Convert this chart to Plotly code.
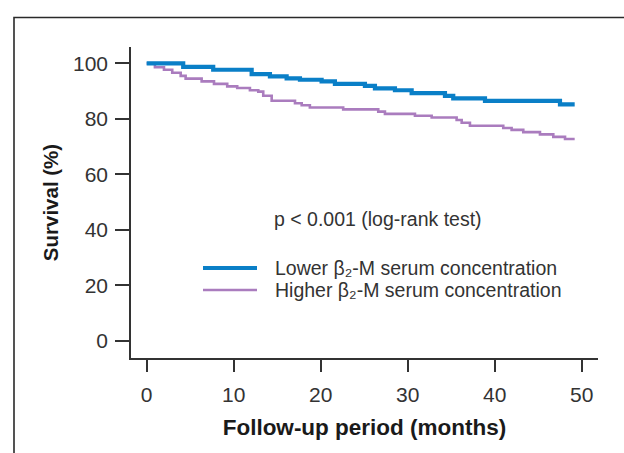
import plotly.graph_objects as go

# Kaplan-Meier step data
lower_t = [0, 4.2, 7.65, 12.07, 14.17, 16.09, 17.62, 20.11, 21.64, 25.09, 26.24,
           28.54, 30.46, 34.29, 35.24, 38.89, 47.51, 49.2]
lower_s = [100, 98.7, 97.7, 96.1, 95.3, 94.6, 94.1, 93.5, 92.6, 91.9, 91.0,
           90.3, 89.3, 88.3, 87.4, 86.5, 85.2, 85.2]

higher_t = [0, 0.95, 1.99, 2.94, 3.91, 4.48, 6.32, 7.74, 9.26, 10.41, 11.87, 12.83,
            13.40, 14.37, 17.05, 17.82, 18.76, 22.59, 26.62, 27.39, 30.84, 32.76,
            35.63, 36.21, 37.16, 40.99, 41.95, 43.29, 45.21, 46.74, 48.09, 49.2]
higher_s = [100, 98.6, 97.7, 96.6, 95.5, 94.5, 93.5, 92.6, 91.7, 91.1, 90.3, 89.8,
            88.3, 86.5, 85.6, 84.9, 84.1, 83.4, 82.6, 81.8, 81.1, 80.5,
            79.6, 78.6, 77.5, 76.7, 76.0, 75.2, 74.4, 73.5, 72.7, 72.7]

x_ticks = [0, 10, 20, 30, 40, 50]
y_ticks = [0, 20, 40, 60, 80, 100]

names = ["Lower β₂-M serum concentration",
         "Higher β₂-M serum concentration"]
blue = "#0a7fc7"
purple = "#aa7cbe"
axis_col = "#333333"
text_col = "#333333"
FONT = "Liberation Sans"

fig = go.Figure()
fig.add_trace(go.Scatter(x=higher_t, y=higher_s, mode="lines", line_shape="hv",
                         line=dict(color=purple, width=2.6), name=names[1],
                         showlegend=False))
fig.add_trace(go.Scatter(x=lower_t, y=lower_s, mode="lines", line_shape="hv",
                         line=dict(color=blue, width=4.2), name=names[0],
                         showlegend=False))

W, H = 624, 453
L, R, T, B = 131, 26, 47, 95
pw, ph = W - L - R, H - T - B

def px(x):
    return (x - L) / pw

def py(y):
    return (H - B - y) / ph

# outer frame (decoration)
fig.add_shape(type="rect", xref="paper", yref="paper",
              x0=px(14), x1=px(700), y0=py(17.5), y1=py(600),
              line=dict(color="#2a2a2a", width=1.6), layer="below")

# manual legend
leg_y = [268, 290]
for (yy, col, wdt, nm) in [(leg_y[0], blue, 4.2, names[0]), (leg_y[1], purple, 2.6, names[1])]:
    fig.add_shape(type="line", xref="paper", yref="paper",
                  x0=px(203), x1=px(257), y0=py(yy), y1=py(yy),
                  line=dict(color=col, width=wdt))
    fig.add_annotation(xref="paper", yref="paper", x=px(273), y=py(yy),
                       xanchor="left", yanchor="middle", showarrow=False,
                       text=nm, font=dict(family=FONT, size=19.5, color=text_col))

fig.add_annotation(xref="paper", yref="paper", x=px(272), y=py(219),
                   xanchor="left", yanchor="middle", showarrow=False,
                   text="p < 0.001 (log-rank test)",
                   font=dict(family=FONT, size=19.5, color=text_col))

fig.update_layout(
    width=W, height=H,
    margin=dict(l=L, r=R, t=T, b=B, pad=0),
    paper_bgcolor="white", plot_bgcolor="white",
    font=dict(family=FONT, color=text_col),
)
fig.update_xaxes(range=[-1.80, 51.88], tickvals=x_ticks, showgrid=False, zeroline=False,
                 showline=True, linecolor=axis_col, linewidth=1.5,
                 ticks="outside", ticklen=12, tickwidth=1.5, tickcolor=axis_col,
                 tickfont=dict(family=FONT, size=21, color=text_col),
                 ticklabelstandoff=5,
                 title=dict(text="Follow-up period (months)", standoff=14,
                            font=dict(family=FONT, size=22.5, color="#1a1a1a", weight="bold")))
fig.update_yaxes(range=[-6.24, 105.9], tickvals=y_ticks, showgrid=False, zeroline=False,
                 showline=True, linecolor=axis_col, linewidth=1.5,
                 ticks="outside", ticklen=14, tickwidth=1.5, tickcolor=axis_col,
                 tickfont=dict(family=FONT, size=21, color=text_col),
                 ticklabelstandoff=3,
                 title=dict(text="Survival (%)", standoff=9,
                            font=dict(family=FONT, size=20.5, color="#1a1a1a", weight="bold")))

fig.write_html("out.html")
